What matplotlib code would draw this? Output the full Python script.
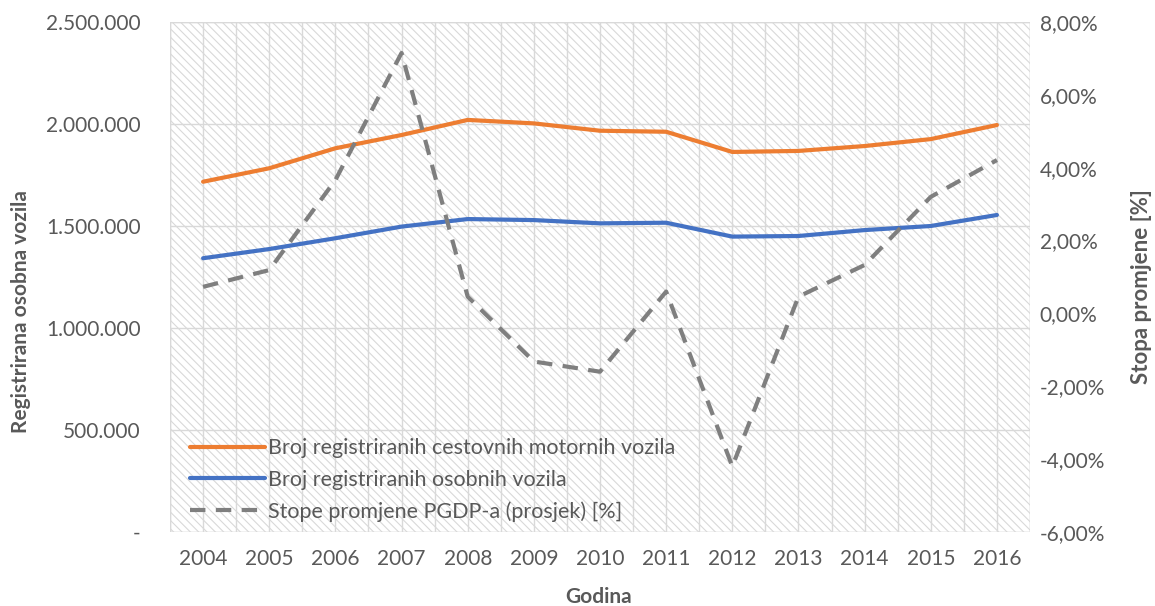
import matplotlib
matplotlib.use("Agg")
import matplotlib.pyplot as plt
from matplotlib.patches import Rectangle
from matplotlib.ticker import FuncFormatter, MultipleLocator
import numpy as np

years = [2004, 2005, 2006, 2007, 2008, 2009, 2010, 2011, 2012, 2013, 2014, 2015, 2016]
motorna = [1717000, 1783000, 1881000, 1946000, 2020000, 2003000, 1967000,
           1962000, 1863000, 1868000, 1892000, 1926000, 1995000]
osobna = [1342000, 1387000, 1440000, 1497000, 1534000, 1529000, 1513000,
          1516000, 1448000, 1451000, 1480000, 1500000, 1554000]
pgdp = [0.73, 1.19, 3.66, 7.15, 0.46, -1.32, -1.60, 0.60, -4.20, 0.46, 1.33, 3.20, 4.21]

labels = ["Broj registriranih cestovnih motornih vozila",
          "Broj registriranih osobnih vozila",
          "Stope promjene PGDP-a (prosjek) [%]"]

plt.rcParams['font.family'] = ['Lato', 'DejaVu Sans']
plt.rcParams['hatch.linewidth'] = 0.8
plt.rcParams['hatch.color'] = '#d4d4d4'

TXT = '#595959'
GRID = '#d9d9d9'

fig = plt.figure(figsize=(11.55, 6.06), dpi=100)
ax = fig.add_axes([170/1155, 1-532/606, 860/1155, 510/606])
ax2 = ax.twinx()

# hatched plot area background
bg = Rectangle((0, 0), 1, 1, transform=ax.transAxes, facecolor='white',
               edgecolor=GRID, hatch='\\\\\\\\', linewidth=1.0, zorder=0)
ax.add_patch(bg)
ax.patch.set_visible(False)

l1, = ax.plot(years, motorna, color='#ED7D31', lw=3.0, solid_capstyle='round', zorder=3)
l2, = ax.plot(years, osobna, color='#4472C4', lw=3.0, solid_capstyle='round', zorder=3)
l3, = ax2.plot(years, pgdp, color='#7F7F7F', lw=3.0, dashes=(3.7, 2.5), zorder=3)

ax.set_xlim(2003.5, 2016.5)
ax.set_ylim(0, 2500000)
ax2.set_ylim(-6, 8)

ax.set_xticks(years)
ax.xaxis.set_minor_locator(MultipleLocator(0.5))
ax.set_yticks(np.arange(0, 2500001, 500000))
ax2.set_yticks(np.arange(-6, 8.01, 2))

def fmt_left(v, pos):
    if v == 0:
        return '-'
    return f"{int(v):,}".replace(',', '.')

def fmt_right(v, pos):
    return f"{v:.2f}%".replace('.', ',')

ax.yaxis.set_major_formatter(FuncFormatter(fmt_left))
ax2.yaxis.set_major_formatter(FuncFormatter(fmt_right))

ax.grid(True, which='both', axis='x', color=GRID, lw=1.0, zorder=1)
ax.grid(True, which='major', axis='y', color=GRID, lw=1.0, zorder=1)
ax.set_axisbelow(True)

for a in (ax, ax2):
    for s in a.spines.values():
        s.set_visible(False)
    a.tick_params(which='both', length=0, colors=TXT, labelsize=15)

ax.tick_params(axis='x', pad=12)
ax.tick_params(axis='y', pad=21)
ax2.tick_params(axis='y', pad=7)

ax.set_xlabel('Godina', fontsize=15, fontweight='bold', color=TXT)
ax.set_ylabel('Registrirana osobna vozila', fontsize=15, fontweight='bold', color=TXT)
ax2.set_ylabel('Stopa promjene [%]', fontsize=16, fontweight='bold', color=TXT)
for lab in (ax.xaxis.label, ax.yaxis.label, ax2.yaxis.label):
    lab.set_va('center')
    lab.set_ha('center')
ax.xaxis.set_label_coords(0.498, -0.127)
ax.yaxis.set_label_coords(-0.173, 0.433)
ax2.yaxis.set_label_coords(1.130, 0.482)

leg = ax2.legend([l1, l2, l3], labels, loc='lower left', bbox_to_anchor=(0.023, 0.02),
                 frameon=False, fontsize=15.5, handlelength=3.5, handletextpad=0.15,
                 labelspacing=0.53, borderaxespad=0.0, borderpad=0.0)
for t in leg.get_texts():
    t.set_color(TXT)

fig.savefig('out.png', dpi=100)
